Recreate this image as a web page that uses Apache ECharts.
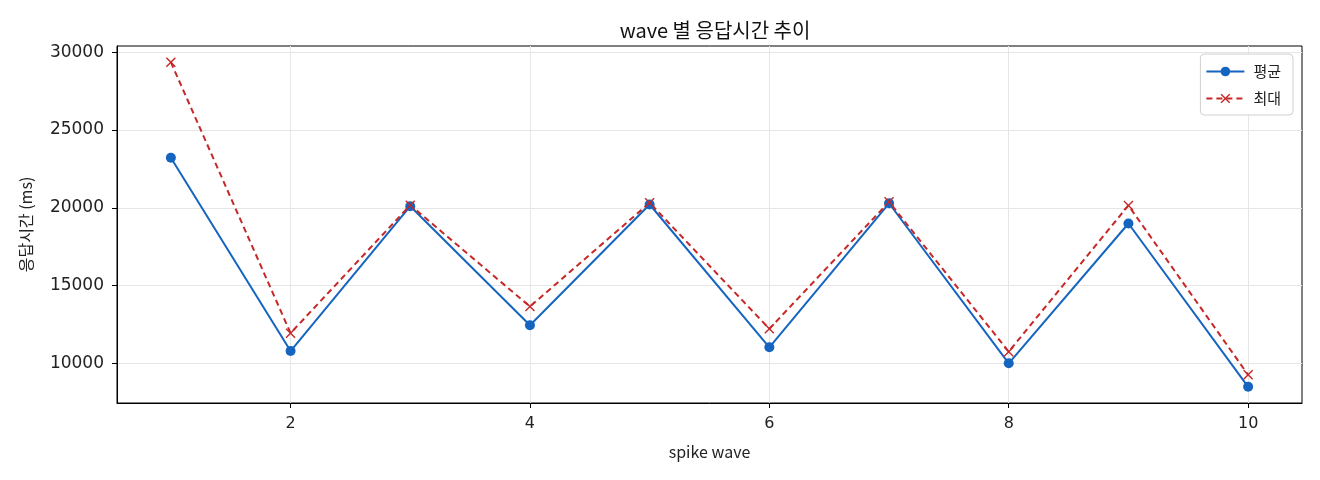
<!DOCTYPE html>
<html><head><meta charset="utf-8">
<script src="https://cdn.jsdelivr.net/npm/echarts@6/dist/echarts.min.js"></script>
<style>html,body{margin:0;padding:0;background:#fff}#c{width:1320px;height:480px}</style>
</head><body><div id="c"></div>
<script>
var waves = [1,2,3,4,5,6,7,8,9,10];
var avgValues = [23220,10790,20100,12450,20210,11030,20290,10000,18990,8490];
var maxValues = [29360,11940,20170,13650,20320,12220,20380,10750,20150,9260];
var xTicks = [2,4,6,8,10];
var yTicks = [10000,15000,20000,25000,30000];
var FONT = '"Noto Sans CJK KR","Noto Sans",sans-serif';
var NUMFONT = '"DejaVu Sans",sans-serif';
var xPath = 'path://M0,1L1,0L5,4L9,0L10,1L6,5L10,9L9,10L5,6L1,10L0,9L4,5Z';
var chart = echarts.init(document.getElementById('c'));
chart.setOption({
  animation:false,
  backgroundColor:'#fff',
  title:{text:'wave 별 응답시간 추이',left:710,textAlign:'center',top:15,
    textStyle:{fontFamily:FONT,fontSize:20,fontWeight:'normal',color:'#111'}},
  grid:{left:117,right:18,top:46,bottom:77,show:true,borderColor:'#000',borderWidth:1},
  legend:{right:27,top:54,orient:'vertical',itemGap:12,itemWidth:38,itemHeight:12,
    padding:[10,12,9,5],borderColor:'#d0d0d0',borderWidth:1,borderRadius:4,backgroundColor:'#fff',
    textStyle:{fontFamily:FONT,fontSize:15,color:'#222',padding:[0,0,0,4]},
    data:['평균','최대']},
  xAxis:{type:'value',min:0.55,max:10.45,
    name:'spike wave',nameLocation:'middle',nameGap:41,
    nameTextStyle:{fontFamily:FONT,fontSize:16,color:'#222'},
    axisLine:{show:true,lineStyle:{color:'#000'}},
    axisTick:{show:true,length:5,customValues:xTicks,lineStyle:{color:'#000'}},
    axisLabel:{customValues:xTicks,fontFamily:NUMFONT,fontSize:16,color:'#222',margin:13},
    splitLine:{show:true,lineStyle:{color:'#e6e6e6',width:1}}},
  yAxis:{type:'value',min:7450,max:30400,
    name:'응답시간 (ms)',nameLocation:'middle',nameGap:83,nameRotate:90,
    nameTextStyle:{fontFamily:FONT,fontSize:16,color:'#222'},
    axisLine:{show:true,lineStyle:{color:'#000'}},
    axisTick:{show:true,length:5,customValues:yTicks,lineStyle:{color:'#000'}},
    axisLabel:{customValues:yTicks,fontFamily:NUMFONT,fontSize:17,color:'#222',margin:13,
      formatter:function(v){return String(v);}},
    splitLine:{show:true,lineStyle:{color:'#e6e6e6',width:1}}},
  series:[
    {name:'평균',type:'line',data:waves.map(function(w,i){return [w,avgValues[i]];}),
      symbol:'circle',symbolSize:10,
      lineStyle:{color:'#1565c0',width:2},itemStyle:{color:'#1565c0'}},
    {name:'최대',type:'line',data:waves.map(function(w,i){return [w,maxValues[i]];}),
      symbol:xPath,symbolSize:10,
      lineStyle:{color:'#c62828',width:2,type:[6,4]},itemStyle:{color:'#c62828'}}
  ]
});
</script></body></html>
